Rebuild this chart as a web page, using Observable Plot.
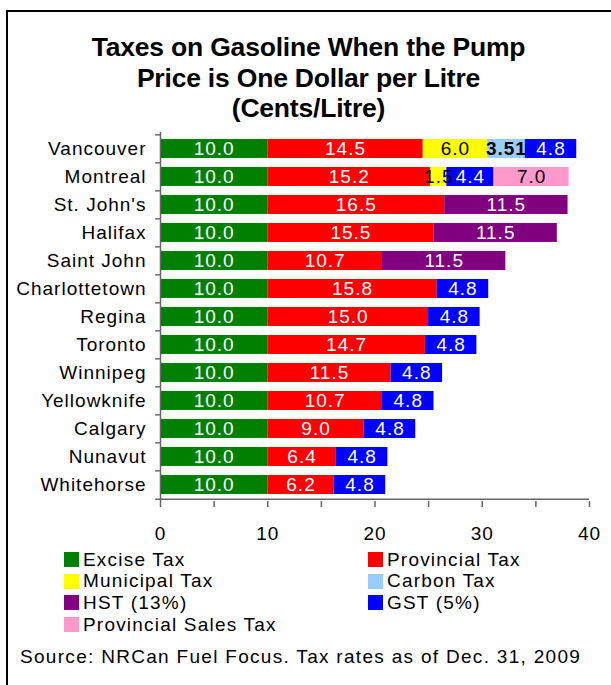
<!DOCTYPE html>
<html>
<head>
<meta charset="utf-8">
<script src="https://cdn.jsdelivr.net/npm/d3@7"></script>
<script src="https://cdn.jsdelivr.net/npm/@observablehq/plot@0.6"></script>
<style>
  html, body { margin: 0; padding: 0; background: #fff; overflow: hidden; }
  #wrap { position: relative; width: 611px; height: 685px; overflow: hidden; font-family: "Liberation Sans", Arial, sans-serif; color: #000; }
  #frame { position: absolute; left: 6px; top: 10px; width: 800px; height: 900px; border-left: 2px solid #000; border-top: 2px solid #000; }
  #title { position: absolute; left: 3px; width: 611px; top: 32px; text-align: center; font-weight: bold; font-size: 26.5px; line-height: 30.5px; letter-spacing: -0.2px; }
  #chart { position: absolute; left: 0; top: 0; }
  #chart svg text { letter-spacing: 1px; }
  .leg { position: absolute; display: flex; align-items: center; height: 22px; font-size: 19px; letter-spacing: 1.2px; white-space: nowrap; }
  .sw { width: 15px; height: 15px; margin-right: 4px; flex: none; }
  #source { position: absolute; left: 20px; top: 645px; font-size: 19px; letter-spacing: 1.3px; white-space: nowrap; line-height: 24px; }
</style>
</head>
<body>
<div id="wrap">
  <div id="frame"></div>
  <div id="chart"></div>
  <div id="title">Taxes on Gasoline When the Pump<br>Price is One Dollar per Litre<br>(Cents/Litre)</div>
  <div id="legend"></div>
  <div id="source">Source: NRCan Fuel Focus. Tax rates as of Dec. 31, 2009</div>
</div>
<script>
// ---- data (cents per litre) ----
const cities = ["Vancouver","Montreal","St. John's","Halifax","Saint John","Charlottetown","Regina","Toronto","Winnipeg","Yellowknife","Calgary","Nunavut","Whitehorse"];
const exciseTax      = [10, 10, 10, 10, 10, 10, 10, 10, 10, 10, 10, 10, 10];
const provincialTax  = [14.5, 15.2, 16.5, 15.5, 10.7, 15.8, 15.0, 14.7, 11.5, 10.7, 9.0, 6.4, 6.2];
const municipalTax   = [6.0, 1.5, 0, 0, 0, 0, 0, 0, 0, 0, 0, 0, 0];
const carbonTax      = [3.51, 0, 0, 0, 0, 0, 0, 0, 0, 0, 0, 0, 0];
const hstTax         = [0, 0, 11.5, 11.5, 11.5, 0, 0, 0, 0, 0, 0, 0, 0];
const gstTax         = [4.8, 4.4, 0, 0, 0, 4.8, 4.8, 4.8, 4.8, 4.8, 4.8, 4.8, 4.8];
const provSalesTax   = [0, 7.0, 0, 0, 0, 0, 0, 0, 0, 0, 0, 0, 0];
const taxNames  = ["Excise Tax","Provincial Tax","Municipal Tax","Carbon Tax","HST (13%)","GST (5%)","Provincial Sales Tax"];
const taxColors = ["#008000","#FF0000","#FFFF00","#99CCFF","#800080","#0000FF","#FF99CC"];
const darkText  = ["Municipal Tax","Carbon Tax","Provincial Sales Tax"];
const xTicks = [0, 5, 10, 15, 20, 25, 30, 35, 40];
const legendOrder = ["Excise Tax","Provincial Tax","Municipal Tax","Carbon Tax","HST (13%)","GST (5%)","Provincial Sales Tax"];

const series = [exciseTax, provincialTax, municipalTax, carbonTax, hstTax, gstTax, provSalesTax];

// build stacked records
const records = [];
cities.forEach((city, i) => {
  let acc = 0;
  series.forEach((s, k) => {
    const v = s[i];
    if (v > 0) {
      records.push({city, type: taxNames[k], value: v, x1: acc, x2: acc + v, mid: acc + v / 2});
      acc += v;
    }
  });
});
const fmt = v => (Math.abs(v * 10 - Math.round(v * 10)) < 1e-9 ? v.toFixed(1) : String(v));

const W = 611, H = 548, mT = 132, mB = 47, mL = 160, mR = 22;
const step = (H - mT - mB) / cities.length;
const FS = 19;

const chart = Plot.plot({
  width: W, height: H,
  marginTop: mT, marginBottom: mB, marginLeft: mL, marginRight: mR,
  style: {background: "transparent", fontFamily: "'Liberation Sans', Arial, sans-serif", overflow: "visible", color: "#000"},
  x: {domain: [0, 40]},
  y: {domain: cities, paddingInner: 0.32, paddingOuter: 0.16},
  color: {domain: taxNames, range: taxColors},
  marks: [
    Plot.barX(records, {y: "city", x1: "x1", x2: "x2", fill: "type"}),
    Plot.text(records.filter(d => !darkText.includes(d.type)), {y: "city", x: "mid", text: d => fmt(d.value), fill: "white", fontSize: FS}),
    Plot.text(records.filter(d => darkText.includes(d.type) && d.type !== "Carbon Tax"), {y: "city", x: "mid", text: d => fmt(d.value), fill: "black", fontSize: FS}),
    Plot.text(records.filter(d => d.type === "Carbon Tax"), {y: "city", x: "mid", text: d => fmt(d.value), fill: "black", fontSize: FS, fontWeight: "bold"}),
    Plot.ruleX([0], {stroke: "#666", strokeWidth: 1.5}),
    Plot.ruleY(cities, {y: d => d, x1: -0.45, x2: 0, dy: -step / 2, stroke: "#666", strokeWidth: 1.5}),
    Plot.ruleY([cities[cities.length - 1]], {y: d => d, x1: -0.45, x2: 40, dy: step / 2, stroke: "#666", strokeWidth: 1.5}),
    Plot.axisY({tickSize: 0, tickPadding: 14, fontSize: FS, label: null}),
    Plot.axisX({ticks: xTicks, tickSize: 6, tickPadding: 19, fontSize: FS, label: null, stroke: "#666", strokeWidth: 1.5, tickFormat: d => (d % 10 === 0 ? String(d) : "")})
  ]
});
document.getElementById("chart").appendChild(chart);

// legend
const legend = document.getElementById("legend");
const colX = [64, 368];
const rowY = [548.5, 570.2, 591.9, 613.6];
legendOrder.forEach((name, i) => {
  const item = document.createElement("div");
  item.className = "leg";
  item.style.left = colX[i % 2] + "px";
  item.style.top = rowY[Math.floor(i / 2)] + "px";
  const sw = document.createElement("span");
  sw.className = "sw";
  sw.style.background = taxColors[taxNames.indexOf(name)];
  const tx = document.createElement("span");
  tx.textContent = name;
  item.appendChild(sw);
  item.appendChild(tx);
  legend.appendChild(item);
});
</script>
</body>
</html>
